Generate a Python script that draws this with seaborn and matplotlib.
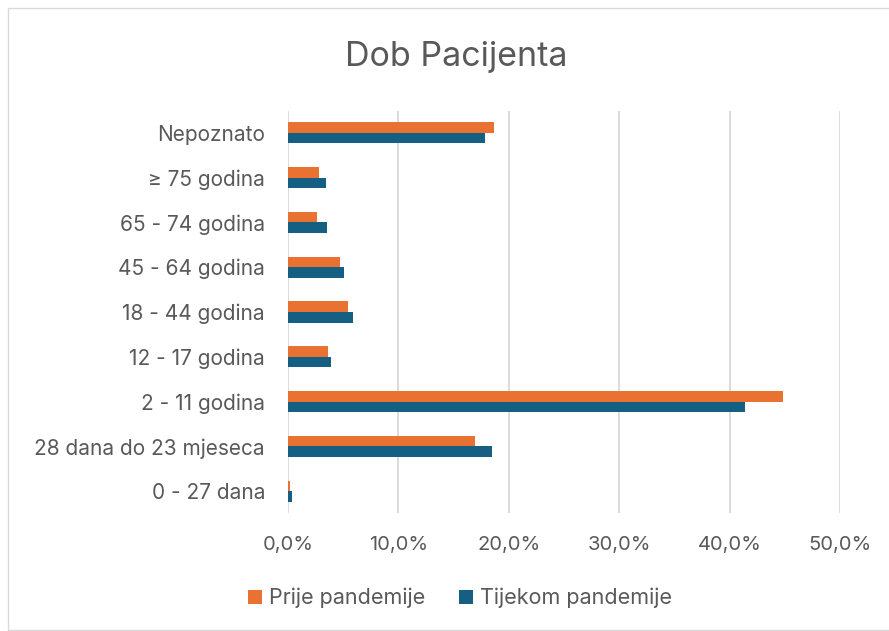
import matplotlib
matplotlib.use("Agg")
import matplotlib.pyplot as plt
import seaborn as sns
import pandas as pd
from matplotlib.patches import Rectangle, Patch
from matplotlib.ticker import FuncFormatter

categories = ["Nepoznato", "≥ 75 godina", "65 - 74 godina", "45 - 64 godina",
              "18 - 44 godina", "12 - 17 godina", "2 - 11 godina",
              "28 dana do 23 mjeseca", "0 - 27 dana"]
prije = [18.7, 2.8, 2.6, 4.7, 5.4, 3.6, 44.8, 16.9, 0.2]
tijekom = [17.8, 3.4, 3.5, 5.1, 5.9, 3.9, 41.4, 18.5, 0.4]
series = ["Prije pandemije", "Tijekom pandemije"]
colors = ["#E97132", "#156082"]
xticks = [0, 10, 20, 30, 40, 50]

df = pd.DataFrame({
    "cat": categories * 2,
    "val": prije + tijekom,
    "series": [series[0]] * len(categories) + [series[1]] * len(categories),
})

sns.set_style("white")
plt.rcParams["font.family"] = ["Inter", "DejaVu Sans"]
txt = "#595959"

fig = plt.figure(figsize=(8.89, 6.31), dpi=100)
ax = fig.add_axes([288 / 889, 1 - 513.4 / 631, (840 - 288) / 889, (513.4 - 110.6) / 631])

sns.barplot(data=df, y="cat", x="val", hue="series", order=categories,
            hue_order=series, palette=colors, orient="h", width=0.47,
            ax=ax, legend=False, saturation=1, edgecolor="none")

ax.set_xlim(0, 50)
ax.set_xticks(xticks)
ax.xaxis.set_major_formatter(FuncFormatter(lambda v, p: f"{v:.1f}%".replace(".", ",")))
ax.grid(axis="x", color="#D9D9D9", linewidth=1.3)
ax.set_axisbelow(True)
for s in ax.spines.values():
    s.set_visible(False)
ax.set_xlabel("")
ax.set_ylabel("")
ax.tick_params(axis="x", length=0, pad=16, labelsize=14.5, labelcolor=txt)
ax.tick_params(axis="y", length=0, pad=16.5, labelsize=15, labelcolor=txt)

fig.text(456 / 889, 1 - 57 / 631, "Dob Pacijenta", ha="center", va="center",
         fontsize=24.5, color=txt)

handles = [Patch(facecolor=c, edgecolor="none") for c in colors]
fig.legend(handles, series, loc="center", bbox_to_anchor=(460 / 889, 1 - 598 / 631),
           ncol=2, frameon=False, fontsize=15.5, labelcolor=txt,
           handlelength=0.65, handleheight=0.65, handletextpad=0.3, columnspacing=1.6)

fig.patches.append(Rectangle((8 / 889, 0.002), 0.997, 1 - 8 / 631 - 0.002,
                             transform=fig.transFigure, fill=False,
                             edgecolor="#D9D9D9", linewidth=1))

fig.savefig("out.png", dpi=100, facecolor="white")
